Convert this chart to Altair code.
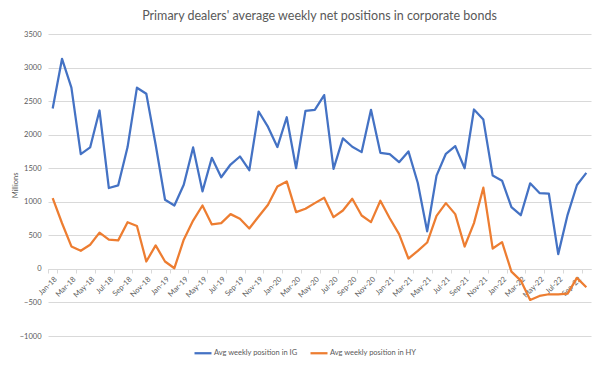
import altair as alt
import pandas as pd

# Categories (monthly, Jan-18 .. Oct-22)
month_names = ["Jan", "Feb", "Mar", "Apr", "May", "Jun", "Jul", "Aug", "Sep", "Oct", "Nov", "Dec"]
years = ["18", "19", "20", "21", "22"]
months = [f"{m}-{y}" for y in years for m in month_names][:58]

# Avg weekly position in IG (millions)
ig = [2390, 3130, 2700, 1710, 1810, 2360, 1205, 1245, 1815, 2700, 2610, 1850,
      1030, 945, 1255, 1810, 1155, 1655, 1365, 1555, 1675, 1470, 2345, 2115,
      1815, 2260, 1500, 2355, 2370, 2590, 1490, 1945, 1820, 1740, 2370, 1730,
      1710, 1590, 1750, 1280, 560, 1390, 1715, 1830, 1500, 2375, 2225, 1390,
      1315, 920, 800, 1275, 1130, 1120, 220, 805, 1250, 1430]

# Avg weekly position in HY (millions)
hy = [1055, 680, 335, 270, 360, 540, 435, 425, 695, 640, 110, 350,
      110, 10, 435, 720, 945, 662, 682, 816, 746, 602, 781, 955,
      1229, 1303, 846, 896, 980, 1060, 771, 870, 1045, 796, 697, 1015,
      755, 518, 154, 269, 393, 791, 980, 816, 333, 682, 1210, 303,
      398, -40, -174, -463, -403, -378, -378, -368, -134, -274]

series = ["Avg weekly position in IG", "Avg weekly position in HY"]
colors = ["#4472C4", "#ED7D31"]
y_ticks = [-1000, -500, 0, 500, 1000, 1500, 2000, 2500, 3000, 3500]
shown_labels = months[::2]

rows = []
for name, vals in zip(series, [ig, hy]):
    for m, v in zip(months, vals):
        rows.append({"month": m, "value": v, "series": name})
df = pd.DataFrame(rows)

FONT = "Lato"
GREY = "#595959"
GRID = "#d9d9d9"

chart = alt.Chart(df).mark_line(strokeWidth=2.25, strokeJoin="round").encode(
    x=alt.X("month:N", sort=months, bandPosition=0.5,
            scale=alt.Scale(type="band", paddingInner=0, paddingOuter=0),
            axis=alt.Axis(values=shown_labels, labelAngle=-45, tickBand="extent",
                          offset=-67, domainColor=GRID, tickColor=GRID, tickSize=4,
                          labelFontSize=7.5, labelColor=GREY, labelFont=FONT,
                          labelPadding=2, labelOverlap=False, grid=False, title=None)),
    y=alt.Y("value:Q", scale=alt.Scale(domain=[-1000, 3500], nice=False, zero=False),
            axis=alt.Axis(values=y_ticks, format="d", grid=True, gridColor=GRID, domain=False,
                          ticks=False, labelFontSize=7.5, labelColor=GREY, labelFont=FONT,
                          labelPadding=7, title="Millions", titleFont=FONT,
                          titleFontSize=7.5, titleColor=GREY, titleFontWeight="normal",
                          titleX=-33, titleY=151, titleAngle=-90,
                          titleAlign="center", titleBaseline="middle")),
    color=alt.Color("series:N", sort=series,
                    scale=alt.Scale(domain=series, range=colors),
                    legend=alt.Legend(orient="none", legendX=145, legendY=309,
                                      direction="horizontal", symbolType="stroke",
                                      symbolStrokeWidth=2.25, symbolSize=289,
                                      labelFontSize=7.5, labelColor=GREY, labelFont=FONT,
                                      title=None, columnPadding=8, labelOffset=1)),
).properties(
    width=543, height=302,
    autosize=alt.AutoSizeParams(type="none"),
    padding={"left": 40, "top": 26, "right": 3, "bottom": 21},
    title=alt.TitleParams(text="Primary dealers' average weekly net positions in corporate bonds",
                          font=FONT, fontSize=12.5, fontWeight="normal", color=GREY,
                          anchor="middle", frame="group", offset=8),
).configure_view(strokeWidth=0)

chart.save("out.html", embed_options={"renderer": "svg", "actions": False})
